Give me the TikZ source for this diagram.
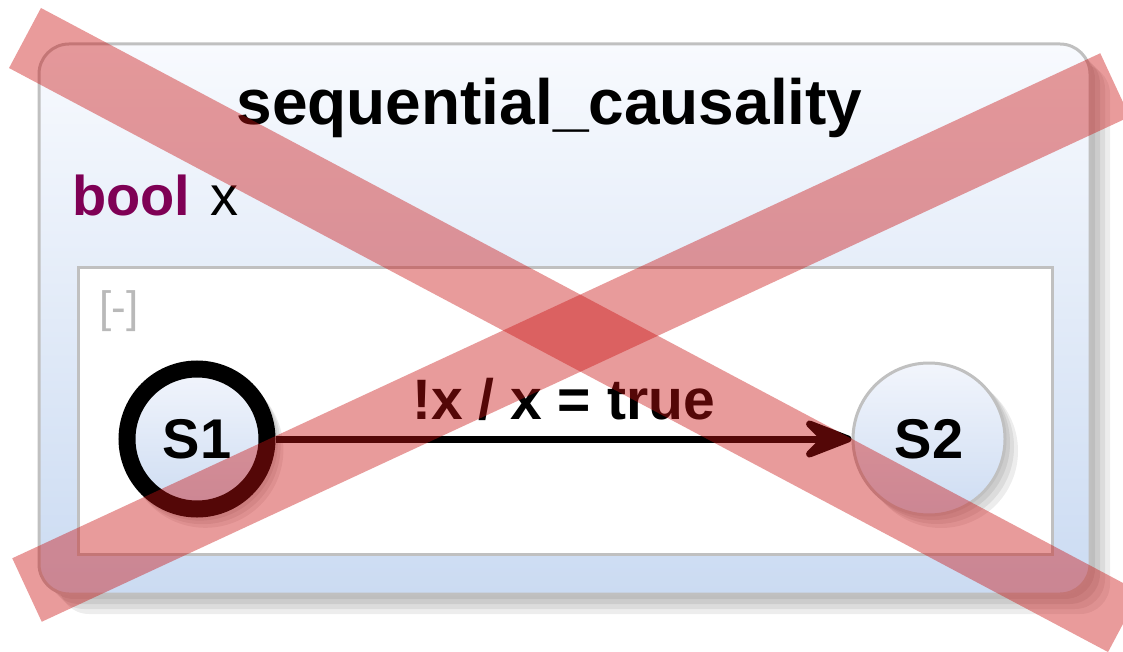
\documentclass[tikz,border=0pt]{standalone}
\usepackage{fontspec}
\setmainfont{Liberation Sans}
\usetikzlibrary{arrows.meta,shadings}
\definecolor{boxborder}{RGB}{192,192,192}
\definecolor{boxtop}{RGB}{248,250,254}
\definecolor{boxbot}{RGB}{203,219,242}
\definecolor{sttop}{RGB}{242,245,252}
\definecolor{stbot}{RGB}{205,220,242}
\definecolor{kwcolor}{RGB}{127,0,85}
\definecolor{crossred}{RGB}{202,17,17}
\definecolor{bracketgray}{RGB}{185,185,185}
\tikzset{
  shadowlayer/.style={fill=black, fill opacity=0.07, draw=none},
  statebase/.style={circle, inner sep=0pt, top color=sttop, bottom color=stbot,
     font=\fontsize{56}{56}\selectfont\bfseries},
  initstate/.style={statebase, draw=black, line width=17pt, minimum size=140pt},
  plainstate/.style={statebase, draw=boxborder, line width=3pt, minimum size=152pt},
  crossband/.style={draw=crossred, draw opacity=0.42, line cap=butt},
  trans/.style={line width=7pt, draw=black, -{Stealth[length=62pt,width=48pt,inset=24pt,round]}},
}
\begin{document}
\begin{tikzpicture}[x=1pt,y=-1pt]
\useasboundingbox (0,0) rectangle (1123,652);
% outer box shadow
\foreach \s in {5,10,15,20}{
  \fill[shadowlayer, rounded corners=30pt] (39+\s,44+\s) rectangle (1090+\s,594+\s);
}
% outer box
\draw[draw=boxborder, line width=3pt, rounded corners=30pt, top color=boxtop, bottom color=boxbot]
  (39,44) rectangle (1090,594);
\node[anchor=base, font=\fontsize{64}{64}\selectfont\bfseries] (title) at (549.5,125) {sequential\_causality};
\node[anchor=base west, font=\fontsize{56}{56}\selectfont, inner sep=0pt] (decl) at (72,216)
  {{\bfseries\color{kwcolor}bool}\hspace{5pt} x};
% inner region
\draw[draw=boxborder, line width=3pt, fill=white] (78,267) rectangle (1052,554);
\node[anchor=base west, inner sep=0pt, text=bracketgray, font=\fontsize{44}{44}\selectfont] (collapse) at (99,322) {[-]};
% state shadows
\foreach \s in {4,8,12}{
  \fill[shadowlayer] (197+0.7*\s,439+0.9*\s) circle (78);
  \fill[shadowlayer] (929+\s,439+\s) circle (77);
}
\node[initstate] (S1) at (197,439) {S1};
\node[plainstate] (S2) at (929,439) {S2};
\draw[trans] (S1) -- (S2)
  node[pos=0.5, yshift=20pt, anchor=base, font=\fontsize{57}{57}\selectfont\bfseries] (lbl) {!x / x = true};
% red cross
\draw[crossband, line width=68pt] (25,38) -- (1124,622);
\draw[crossband, line width=70pt] (27,590) -- (1115,85);
\end{tikzpicture}
\end{document}
